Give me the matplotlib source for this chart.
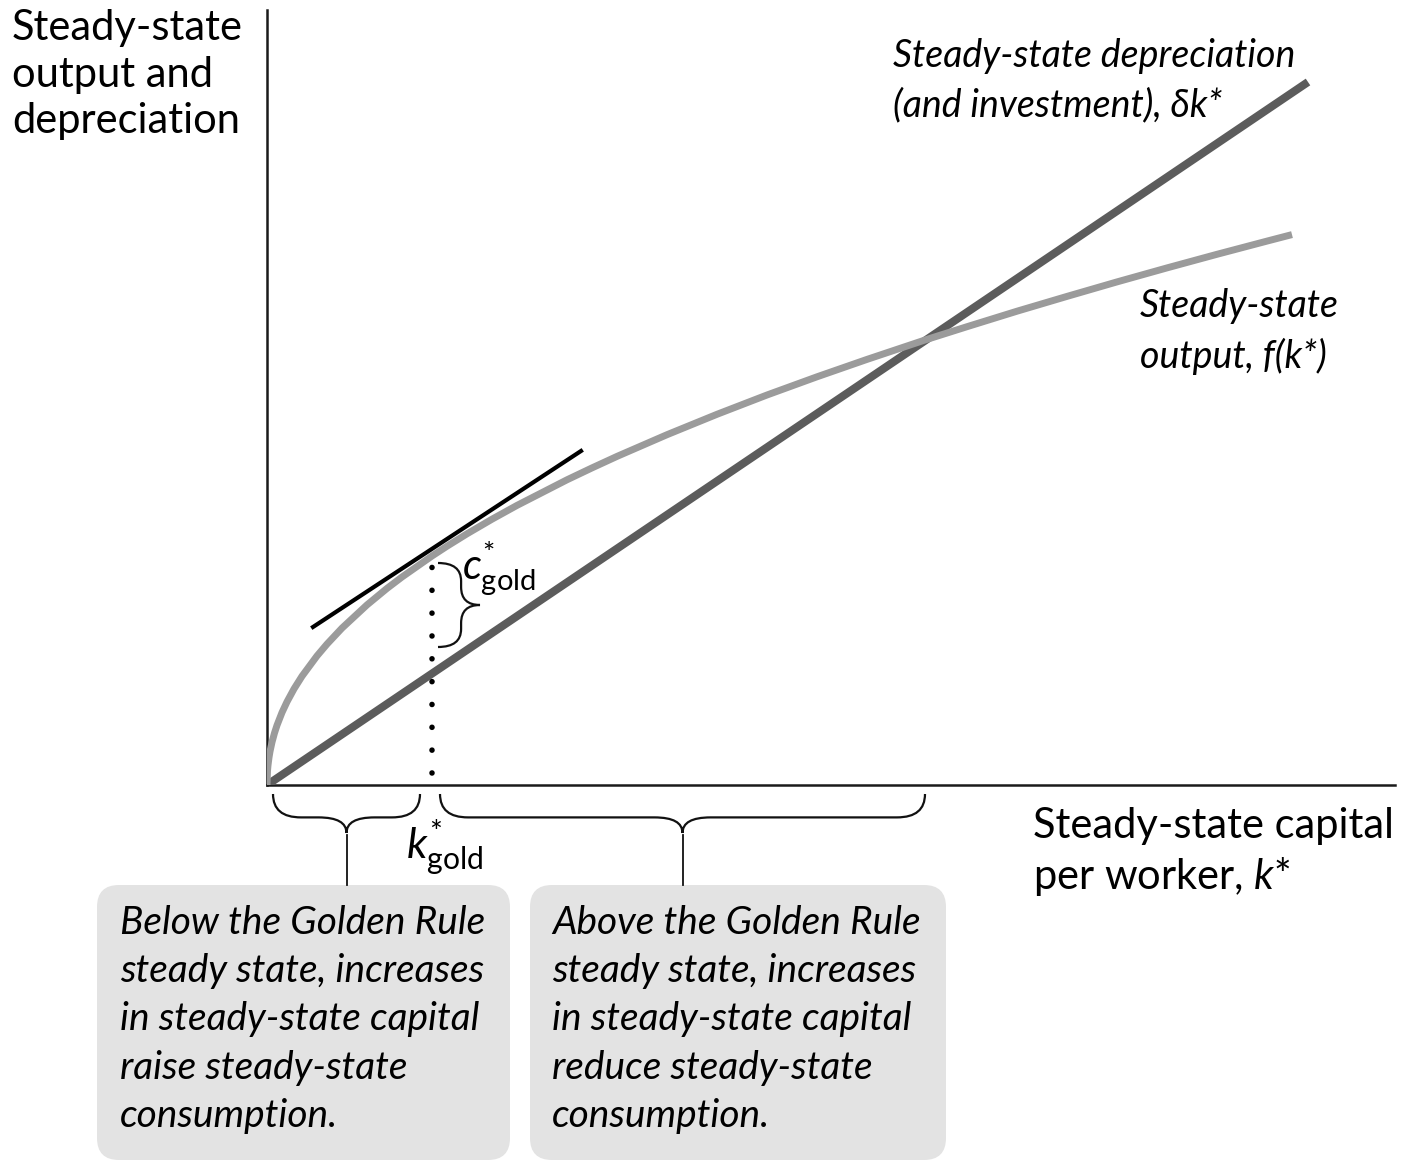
import matplotlib
matplotlib.use("Agg")
import matplotlib.pyplot as plt
from matplotlib.path import Path
from matplotlib.patches import PathPatch, FancyBboxPatch

# values (k on x, output / depreciation on y)
k_line = [0.0, 10.41]
dep_line = [0.0, 7.03]

k_out = [0.0, 0.005, 0.01, 0.02, 0.03, 0.05, 0.075, 0.1, 0.15, 0.2, 0.27, 0.35,
         0.5, 0.6, 0.75, 1.0, 1.2, 1.35, 1.65, 1.8, 2.0, 2.25, 2.5, 3.0, 3.25,
         3.5, 4.0, 4.5, 5.0, 5.5, 6.0, 6.58, 7.0, 7.5, 8.0, 8.5, 9.0, 9.5,
         10.0, 10.25]
f_out = [0.0, 0.142, 0.197, 0.275, 0.335, 0.428, 0.520, 0.597, 0.725, 0.832,
         0.961, 1.088, 1.291, 1.409, 1.569, 1.801, 1.966, 2.080, 2.290, 2.388,
         2.512, 2.658, 2.796, 3.052, 3.171, 3.286, 3.503, 3.707, 3.900, 4.082,
         4.256, 4.450, 4.583, 4.738, 4.886, 5.031, 5.171, 5.307, 5.439, 5.504]

tan_k = [0.46, 3.14]
tan_y = [1.58, 3.34]

k_gold = 1.65
c_gold_top = 2.22
c_gold_bot = 1.38
k_cross = 6.58

FAM = ['Lato', 'DejaVu Sans']
plt.rcParams['font.family'] = FAM
plt.rcParams['mathtext.fontset'] = 'custom'
plt.rcParams['mathtext.rm'] = 'Lato'
plt.rcParams['mathtext.it'] = 'Lato:italic'

fig = plt.figure(figsize=(14.04, 11.6), dpi=100)
ax = fig.add_axes([267 / 1404, 375 / 1160, 1128 / 1404, 775 / 1160])
ax.set_xlim(0, 11.28)
ax.set_ylim(0, 7.75)
for s in ['top', 'right']:
    ax.spines[s].set_visible(False)
for s in ['left', 'bottom']:
    ax.spines[s].set_linewidth(1.8)
    ax.spines[s].set_color('#1a1a1a')
ax.set_xticks([])
ax.set_yticks([])

ax.plot(k_line, dep_line, color='#5c5c5c', lw=5.8, solid_capstyle='butt', zorder=3)
ax.plot(k_out, f_out, color='#9b9b9b', lw=5.0, solid_capstyle='butt',
        solid_joinstyle='round', zorder=4)
ax.plot(tan_k, tan_y, color='black', lw=3.0, zorder=5)
ax.plot([k_gold, k_gold], [0.12, 2.18], color='black', lw=4.0,
        linestyle=(0, (0.01, 4.1)), dash_capstyle='round', zorder=5)


def brace_h(x0, x1, y0, d, r):
    xm = (x0 + x1) / 2
    h = y0 - d * 0.6
    tip = y0 - d
    verts = [(x0, y0), (x0, h), (x0 + r, h), (xm - r, h), (xm, h), (xm, tip),
             (xm, h), (xm + r, h), (x1 - r, h), (x1, h), (x1, y0)]
    codes = [Path.MOVETO, Path.CURVE3, Path.CURVE3, Path.LINETO, Path.CURVE3,
             Path.CURVE3, Path.CURVE3, Path.CURVE3, Path.LINETO, Path.CURVE3,
             Path.CURVE3]
    ax.add_patch(PathPatch(Path(verts, codes), fill=False, lw=1.6,
                           edgecolor='#111111', clip_on=False))
    return xm, tip


def brace_v(y0, y1, x0, d, r):
    ym = (y0 + y1) / 2
    h = x0 + d * 0.55
    tip = x0 + d
    verts = [(x0, y0), (h, y0), (h, y0 - r), (h, ym + r), (h, ym), (tip, ym),
             (h, ym), (h, ym - r), (h, y1 + r), (h, y1), (x0, y1)]
    codes = [Path.MOVETO, Path.CURVE3, Path.CURVE3, Path.LINETO, Path.CURVE3,
             Path.CURVE3, Path.CURVE3, Path.CURVE3, Path.LINETO, Path.CURVE3,
             Path.CURVE3]
    ax.add_patch(PathPatch(Path(verts, codes), fill=False, lw=1.6,
                           edgecolor='#111111', clip_on=False))


# c*_gold brace and label
brace_v(c_gold_top, c_gold_bot, 1.71, 0.42, 0.18)
ax.text(1.95, 2.05, r'$\mathit{c}^{*}_{\mathrm{gold}}$', fontsize=30,
        ha='left', va='baseline')

# braces under the axis
xm1, tip1 = brace_h(0.06, k_gold - 0.12, -0.09, 0.39, 0.28)
xm2, tip2 = brace_h(k_gold + 0.08, k_cross, -0.09, 0.39, 0.28)
ax.plot([xm1, xm1], [tip1 - 0.02, -1.0], color='#111111', lw=1.3, clip_on=False)
ax.plot([xm2, xm2], [tip2 - 0.02, -1.0], color='#111111', lw=1.3, clip_on=False)

ax.text(1.39, -0.73, r'$\mathit{k}^{*}_{\mathrm{gold}}$', fontsize=31,
        ha='left', va='baseline', clip_on=False)

# grey note boxes
for x0, x1 in [(-1.70, 2.43), (2.63, 6.79)]:
    ax.add_patch(FancyBboxPatch((x0, -3.75), x1 - x0, 2.75,
                                boxstyle='round,pad=0,rounding_size=0.22',
                                facecolor='#e3e3e3', edgecolor='none', clip_on=False))

ax.text(-1.47, -1.20,
        'Below the Golden Rule\nsteady state, increases\nin steady-state capital\n'
        'raise steady-state\nconsumption.',
        fontsize=28, style='italic', ha='left', va='top', linespacing=1.42, clip_on=False)
ax.text(2.85, -1.20,
        'Above the Golden Rule\nsteady state, increases\nin steady-state capital\n'
        'reduce steady-state\nconsumption.',
        fontsize=28, style='italic', ha='left', va='top', linespacing=1.42, clip_on=False)

# axis labels
ax.text(-2.55, 7.76, 'Steady-state\noutput and\ndepreciation', fontsize=30,
        ha='left', va='top', linespacing=1.28, clip_on=False)
ax.text(7.66, -0.22, 'Steady-state capital\nper worker, $\\mathit{k}$*', fontsize=30,
        ha='left', va='top', linespacing=1.28, clip_on=False)

# curve labels
ax.text(6.26, 7.47, 'Steady-state depreciation\n(and investment), \u03b4k*',
        fontsize=27, style='italic', ha='left', va='top', linespacing=1.45)
ax.text(8.73, 4.97, 'Steady-state\noutput, f(k*)',
        fontsize=27, style='italic', ha='left', va='top', linespacing=1.45)

fig.savefig('out.png', dpi=100)
